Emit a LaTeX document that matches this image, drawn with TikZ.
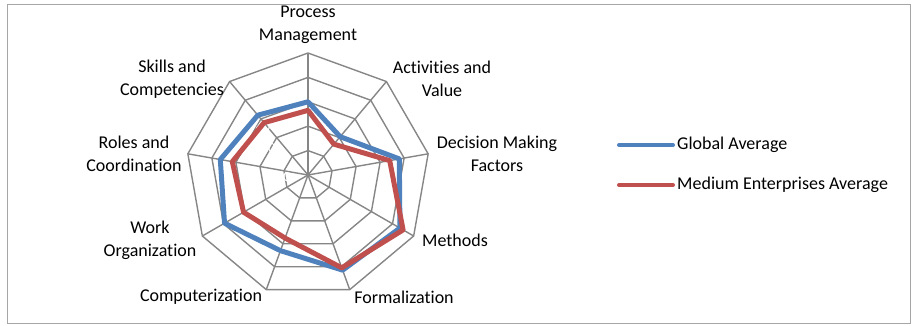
\documentclass[tikz,border=0pt]{standalone}
\usepackage{fontspec}
\setmainfont{Carlito}[Ligatures={NoCommon,NoContextual}, RawFeature={-liga;-clig;-dlig}]
\usepackage{tikz}
\usetikzlibrary{calc}

\definecolor{gridgray}{HTML}{868686}
\definecolor{framegray}{HTML}{A6A6A6}
\definecolor{globalblue}{HTML}{4F81BD}
\definecolor{mediumred}{HTML}{C0504D}

\begin{document}
\begin{tikzpicture}[x=1pt, y=1pt]
	\tikzset{axislabel/.style = {align=center, font=\fontsize{18}{23}\selectfont, inner sep=0pt}}
	\tikzset{ticklabel/.style = {text=white, font=\fontsize{14}{16}\selectfont, inner sep=0pt}}
	\tikzset{series/.style = {line width=5pt, line join=round}}
	\tikzset{legendline/.style = {line width=4pt, line cap=round}}
	
	\useasboundingbox (0,0) rectangle (912,325);
	\draw[framegray, line width=0.8pt] (7,2) rectangle (910,321);
	
	\coordinate (O) at (308,150);
	
	% rings and spokes
	\foreach \r in {1,...,5}{
		\draw[gridgray, line width=1.4pt, shift={(O)}] (90:24.4*\r)
		\foreach \a in {130,170,...,410} { -- (\a:24.4*\r) } -- cycle;
	}
	\foreach \a [count=\i] in {90,50,...,-230}{
		\coordinate (ax\i) at ($(O)+(\a:122)$);
		\draw[gridgray, line width=1.4pt] (O) -- (ax\i);
	}
	
	\node[ticklabel] (t0) at (287,148) {0};
	\node[ticklabel] (t20) at (268,177) {20};
	\node[ticklabel] (t40) at (263,198) {40};
	\node[ticklabel] (t60) at (281,221) {60};
	
	% data
	\foreach \v [count=\i, evaluate=\i as \a using 130-40*\i] in {60,41,76,87,83,66,79,73,64}
		\coordinate (glob\i) at ($(O)+(\a:1.22*\v)$);
	\foreach \v [count=\i, evaluate=\i as \a using 130-40*\i] in {53,33,68,90,81,55,61,63,56}
		\coordinate (med\i) at ($(O)+(\a:1.22*\v)$);
	
	\draw[series, globalblue] (glob1) -- (glob2) -- (glob3) -- (glob4) -- (glob5)
	-- (glob6) -- (glob7) -- (glob8) -- (glob9) -- cycle;
	\draw[series, mediumred] (med1) -- (med2) -- (med3) -- (med4) -- (med5)
	-- (med6) -- (med7) -- (med8) -- (med9) -- cycle;
	
	\node[axislabel] (label_pm) at (308,300) {Process\\Management};
	\node[axislabel] (label_av) at (442,246) {Activities and\\Value};
	\node[axislabel] (label_dm) at (497,171) {Decision Making\\Factors};
	\node[axislabel] (label_me) at (455,85) {Methods};
	\node[axislabel] (label_fo) at (404,28) {Formalization};
	\node[axislabel] (label_co) at (201,28) {Computerization};
	\node[axislabel] (label_wo) at (150,85) {Work\\Organization};
	\node[axislabel] (label_rc) at (134,171) {Roles and\\Coordination};
	\node[axislabel] (label_sc) at (172,246) {Skills and\\Competencies};
	
	% legend
	\coordinate (lg1a) at (619,180);
	\coordinate (lg1b) at (673,180);
	\coordinate (lg2a) at (619,140);
	\coordinate (lg2b) at (673,140);
	\draw[legendline, globalblue] (lg1a) -- (lg1b);
	\draw[legendline, mediumred] (lg2a) -- (lg2b);
	\node[axislabel, anchor=west] (label_glob) at (677,180) {Global Average};
	\node[axislabel, anchor=west] (label_med) at (677,140) {Medium Enterprises Average};
	
\end{tikzpicture}
\end{document}
